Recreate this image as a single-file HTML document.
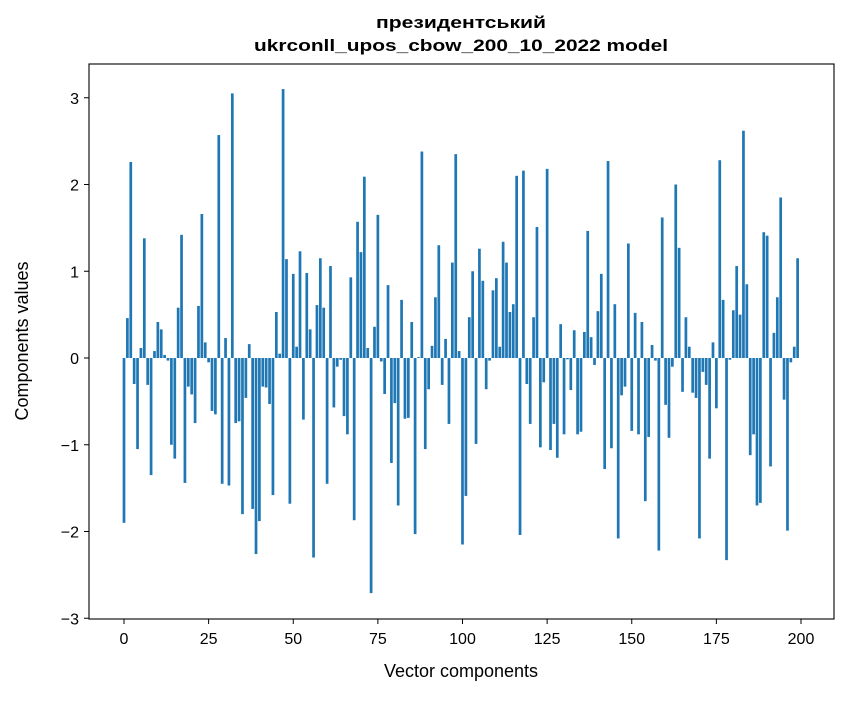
<!DOCTYPE html>
<html><head><meta charset="utf-8"><style>
body{margin:0;background:#fff}
svg text{font-family:"Liberation Sans","DejaVu Sans",sans-serif;fill:#000}
</style></head><body>
<svg id="chart" width="847" height="696" viewBox="0 0 847 696" xmlns="http://www.w3.org/2000/svg">
<rect width="847" height="696" fill="#fff"/>
<text x="461" y="28" text-anchor="middle" font-size="17" font-weight="bold" textLength="170" lengthAdjust="spacingAndGlyphs">президентський</text>
<text x="461" y="51" text-anchor="middle" font-size="17" font-weight="bold" textLength="414" lengthAdjust="spacingAndGlyphs">ukrconll_upos_cbow_200_10_2022 model</text>
<g id="bars"></g>
<g id="axes"></g>
<rect x="89" y="64" width="745" height="555" fill="none" stroke="#000" stroke-width="1.1"/>
<text x="461" y="677" text-anchor="middle" font-size="18">Vector components</text>
<text transform="translate(28,341) rotate(-90)" text-anchor="middle" font-size="18">Components values</text>
</svg>
<script>
const values = [-1.90,0.46,2.26,-0.30,-1.05,0.115,1.38,-0.31,-1.35,0.08,
0.415,0.33,0.035,-0.03,-1.0,-1.16,0.58,1.42,-1.44,-0.33,
-0.42,-0.75,0.60,1.66,0.18,-0.05,-0.61,-0.65,2.57,-1.45,
0.23,-1.47,3.05,-0.75,-0.73,-1.80,-0.46,0.16,-1.74,-2.26,
-1.88,-0.33,-0.34,-0.53,-1.58,0.53,0.05,3.10,1.14,-1.68,
0.97,0.13,1.23,-0.71,0.98,0.33,-2.30,0.61,1.15,0.58,
-1.45,1.06,-0.57,-0.10,-0.02,-0.67,-0.88,0.93,-1.87,1.57,
1.22,2.09,0.115,-2.71,0.36,1.65,-0.04,-0.415,0.84,-1.21,
-0.52,-1.70,0.67,-0.70,-0.69,0.415,-2.03,0.01,2.38,-1.05,
-0.36,0.14,0.70,1.30,-0.31,0.22,-0.76,1.10,2.35,0.08,
-2.15,-1.59,0.47,1.00,-0.99,1.26,0.89,-0.36,-0.03,0.78,
0.92,0.13,1.34,1.10,0.53,0.62,2.10,-2.04,2.16,-0.30,
-0.76,0.47,1.51,-1.03,-0.28,2.18,-1.06,-0.76,-1.15,0.39,
-0.88,-0.015,-0.37,0.32,-0.88,-0.85,0.30,1.465,0.24,-0.08,
0.54,0.97,-1.28,2.27,-1.04,0.62,-2.08,-0.43,-0.33,1.32,
-0.84,0.52,-0.88,0.415,-1.65,-0.91,0.15,-0.03,-2.22,1.62,
-0.54,-0.92,-0.10,2.00,1.27,-0.39,0.47,0.13,-0.40,-0.46,
-2.08,-0.16,-0.31,-1.16,0.18,-0.58,2.28,0.67,-2.33,-0.02,
0.55,1.06,0.50,2.62,0.85,-1.12,-0.88,-1.70,-1.67,1.45,
1.41,-1.25,0.29,0.70,1.85,-0.48,-1.99,-0.05,0.13,1.15];
const xTicks = [0,25,50,75,100,125,150,175,200];
const yTicks = [-3,-2,-1,0,1,2,3];
const NS="http://www.w3.org/2000/svg";
function xs(v){return 124 + v*3.385;}
function ys(v){return 358 - v*86.75;}
const bars=document.getElementById('bars');
values.forEach((v,i)=>{
  const r=document.createElementNS(NS,'rect');
  
  
  const w=0.8*3.385;
  r.setAttribute('x',xs(i)-w/2);
  r.setAttribute('width',w);
  r.setAttribute('y',Math.min(ys(v),ys(0)));
  r.setAttribute('height',Math.abs(ys(v)-ys(0)));
  r.setAttribute('fill','#1f77b4');
  bars.appendChild(r);
});
const axes=document.getElementById('axes');
xTicks.forEach(t=>{
  const l=document.createElementNS(NS,'line');
  
  
  l.setAttribute('x1',xs(t));l.setAttribute('x2',xs(t));
  l.setAttribute('y1',619);l.setAttribute('y2',624);
  l.setAttribute('stroke','#000');
  axes.appendChild(l);
  const tx=document.createElementNS(NS,'text');
  
  
  tx.setAttribute('x',xs(t));tx.setAttribute('y',644);
  tx.setAttribute('text-anchor','middle');tx.setAttribute('font-size','16');
  tx.textContent=t;
  axes.appendChild(tx);
});
yTicks.forEach(t=>{
  const l=document.createElementNS(NS,'line');
  
  
  l.setAttribute('x1',84);l.setAttribute('x2',89);
  l.setAttribute('y1',ys(t));l.setAttribute('y2',ys(t));
  l.setAttribute('stroke','#000');
  axes.appendChild(l);
  const tx=document.createElementNS(NS,'text');
  
  
  tx.setAttribute('x',79);tx.setAttribute('y',ys(t)+6);
  tx.setAttribute('text-anchor','end');tx.setAttribute('font-size','16');
  tx.textContent=t<0?'\u2212'+Math.abs(t):String(t);
  axes.appendChild(tx);
});
</script>
</body></html>
